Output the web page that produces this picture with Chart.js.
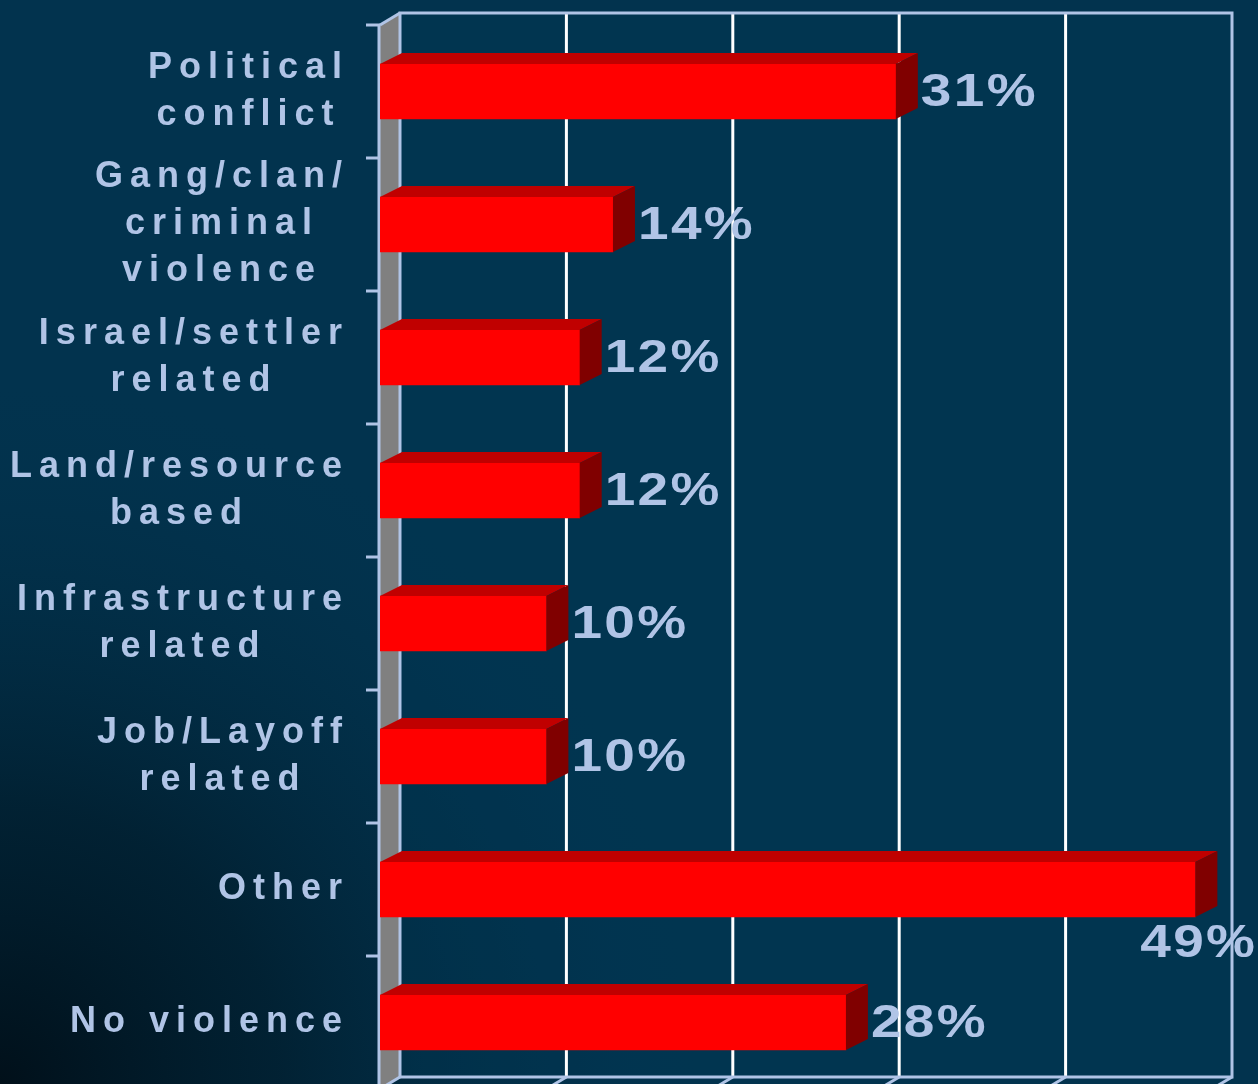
<!DOCTYPE html>
<html>
<head>
<meta charset="utf-8">
<script src="https://cdn.jsdelivr.net/npm/chart.js@4/dist/chart.umd.min.js"></script>
<style>
  html, body { margin: 0; padding: 0; overflow: hidden; background: #02304a; }
  #wrap { width: 1258px; height: 1100px; position: relative; }
</style>
</head>
<body>
<div id="wrap"><canvas id="c"></canvas></div>
<script>
const categories = [
  ["Political", "conflict"],
  ["Gang/clan/", "criminal", "violence"],
  ["Israel/settler", "related"],
  ["Land/resource", "based"],
  ["Infrastructure", "related"],
  ["Job/Layoff", "related"],
  ["Other"],
  ["No violence"]
];
const values = [31, 14, 12, 12, 10, 10, 49, 28];
const valueLabels = ["31%", "14%", "12%", "12%", "10%", "10%", "49%", "28%"];
const valueTicks = [0, 10, 20, 30, 40, 50];

const DX = 20, DY = 12;           // 3D depth of back wall
const BDX = 22, BDY = 11;         // 3D depth of bars
const LINE = '#b0c4e6';
const TEXT = '#b0c4e6';

function spacedWidth(ctx, s, sp) {
  return ctx.measureText(s).width - sp;
}

const deco = {
  id: 'deco',
  beforeDraw(chart) {
    const ctx = chart.ctx, W = chart.width, H = chart.height;
    ctx.save();
    ctx.fillStyle = '#02334e';
    ctx.fillRect(0, 0, W, H);
    const r = ctx.createRadialGradient(0, 1084, 0, 0, 1084, 700);
    r.addColorStop(0, 'rgba(1,16,26,1)');
    r.addColorStop(0.4, 'rgba(1,26,40,0.7)');
    r.addColorStop(1, 'rgba(2,48,74,0)');
    ctx.fillStyle = r;
    ctx.fillRect(0, 0, W, H);
    ctx.restore();
  },
  beforeDatasetsDraw(chart) {
    const ctx = chart.ctx, a = chart.chartArea;
    const xs = chart.scales.x;
    const x0 = xs.getPixelForValue(0), xEnd = xs.getPixelForValue(valueTicks[valueTicks.length - 1]);
    const top = a.top, bot = a.bottom;
    ctx.save();
    ctx.fillStyle = 'rgba(0,56,86,0.35)';
    ctx.fillRect(x0 + DX, top - DY, xEnd - x0, bot - top);
    ctx.fillStyle = '#808080';
    ctx.beginPath();
    ctx.moveTo(x0, top); ctx.lineTo(x0 + DX, top - DY);
    ctx.lineTo(x0 + DX, bot - DY); ctx.lineTo(x0, bot);
    ctx.closePath(); ctx.fill();
    ctx.strokeStyle = '#ffffff';
    ctx.lineWidth = 3;
    valueTicks.slice(1, -1).forEach(v => {
      const x = xs.getPixelForValue(v) + DX;
      ctx.beginPath(); ctx.moveTo(x, top - DY); ctx.lineTo(x, bot - DY); ctx.stroke();
    });
    ctx.strokeStyle = LINE;
    ctx.lineWidth = 3;
    ctx.strokeRect(x0 + DX, top - DY, xEnd - x0, bot - top);
    valueTicks.forEach(v => {
      const x = xs.getPixelForValue(v);
      ctx.beginPath(); ctx.moveTo(x + DX, bot - DY); ctx.lineTo(x, bot); ctx.stroke();
    });
    ctx.beginPath(); ctx.moveTo(x0, top); ctx.lineTo(x0 + DX, top - DY); ctx.stroke();
    ctx.beginPath(); ctx.moveTo(x0 - 1, top); ctx.lineTo(x0 - 1, bot); ctx.stroke();
    const n = categories.length;
    for (let i = 0; i <= n; i++) {
      const y = top + (bot - top) * i / n;
      ctx.beginPath(); ctx.moveTo(x0 - 14, y); ctx.lineTo(x0, y); ctx.stroke();
    }
    ctx.restore();
  },
  afterDatasetsDraw(chart) {
    const ctx = chart.ctx;
    const meta = chart.getDatasetMeta(0);
    const ys = chart.scales.y;
    ctx.save();
    meta.data.forEach((bar) => {
      const p = bar.getProps(['x', 'y', 'base', 'height'], true);
      const t = p.y - p.height / 2, b = p.y + p.height / 2;
      ctx.fillStyle = '#c00000';
      ctx.beginPath();
      ctx.moveTo(p.base, t); ctx.lineTo(p.x, t);
      ctx.lineTo(p.x + BDX, t - BDY); ctx.lineTo(p.base + BDX, t - BDY);
      ctx.closePath(); ctx.fill();
      ctx.fillStyle = '#800000';
      ctx.beginPath();
      ctx.moveTo(p.x, t); ctx.lineTo(p.x + BDX, t - BDY);
      ctx.lineTo(p.x + BDX, b - BDY); ctx.lineTo(p.x, b);
      ctx.closePath(); ctx.fill();
    });
    // value labels (horizontally stretched)
    const vsp = 2, SX = 1.17;
    ctx.font = 'bold 47px "Liberation Sans", Arial, sans-serif';
    ctx.letterSpacing = vsp + 'px';
    ctx.fillStyle = TEXT;
    ctx.textBaseline = 'middle';
    ctx.textAlign = 'left';
    meta.data.forEach((bar, i) => {
      const p = bar.getProps(['x', 'y', 'height'], true);
      const s = valueLabels[i];
      const w = spacedWidth(ctx, s, vsp) * SX;
      let x = p.x + 25, y = ys.getPixelForValue(i) + 2;
      if (x + w > chart.width - 2) {
        x = chart.width - 3 - w;
        y = p.y + p.height / 2 + 27;
      }
      ctx.save();
      ctx.translate(x, y);
      ctx.scale(SX, 1);
      ctx.fillText(s, 0, 0);
      ctx.restore();
    });
    // category labels
    const csp = 7;
    ctx.font = 'bold 36px "Liberation Sans", Arial, sans-serif';
    ctx.letterSpacing = csp + 'px';
    const right = 342, lh = 47;
    categories.forEach((lines, i) => {
      const cy = ys.getPixelForValue(i);
      const widths = lines.map(l => spacedWidth(ctx, l, csp));
      const maxW = Math.max(...widths);
      const cx = right - maxW / 2;
      lines.forEach((l, k) => {
        const y = cy + (k - (lines.length - 1) / 2) * lh;
        ctx.fillText(l, cx - widths[k] / 2, y);
      });
    });
    ctx.restore();
  }
};

new Chart(document.getElementById('c'), {
  type: 'bar',
  data: {
    labels: categories.map(c => c.join(' ')),
    datasets: [{
      data: values,
      backgroundColor: '#ff0000',
      borderWidth: 0,
      barThickness: 55
    }]
  },
  options: {
    indexAxis: 'y',
    responsive: true,
    maintainAspectRatio: false,
    animation: false,
    events: [],
    layout: { padding: { left: 380, right: 46, top: 25, bottom: 11 } },
    plugins: { legend: { display: false }, tooltip: { enabled: false } },
    scales: {
      x: { display: false, min: 0, max: 50 },
      y: { display: false, offset: true }
    }
  },
  plugins: [deco]
});
</script>
</body>
</html>
